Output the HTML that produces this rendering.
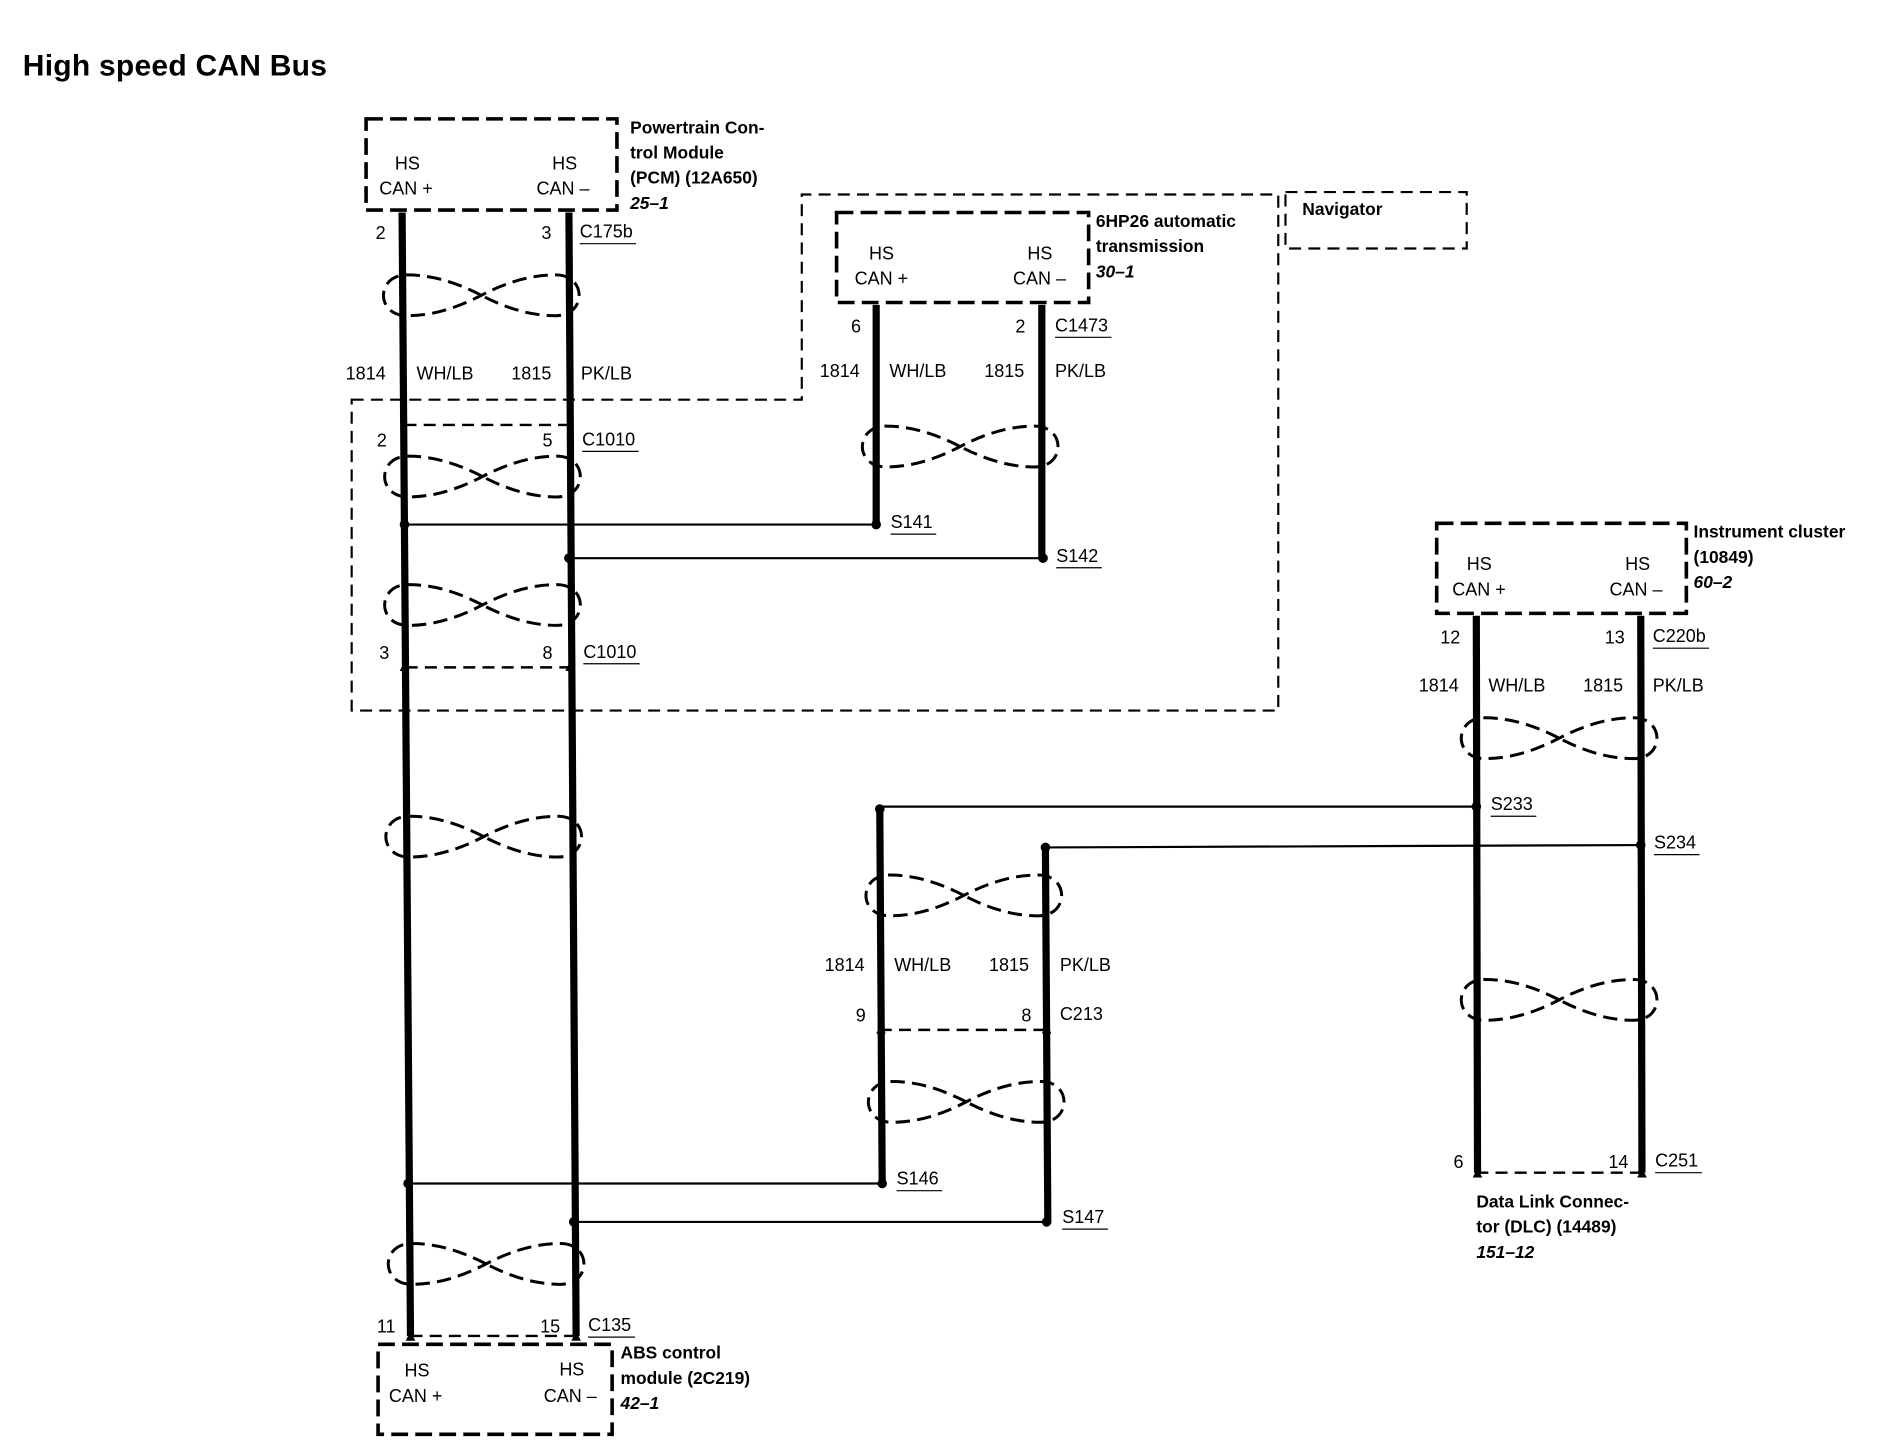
<!DOCTYPE html>
<html><head><meta charset="utf-8"><style>
html,body{margin:0;padding:0;background:#fff;}
svg{display:block;}
text{font-family:"Liberation Sans",Arial,sans-serif;font-size:15px;fill:#000;}
.b{font-weight:bold;font-size:14.5px;}
.i{font-weight:bold;font-style:italic;font-size:14.5px;}
</style></head><body>
<svg width="1882" height="1456" viewBox="0 0 1568 1213" xmlns="http://www.w3.org/2000/svg">
<defs>
<path id="tw" d="M0,0 C-25,-13 -45,-17 -62,-17 C-88,-17 -88,17 -62,17 C-45,17 -25,13 0,0 C25,-13 45,-17 62,-17 C88,-17 88,17 62,17 C45,17 25,13 0,0 Z" fill="none" stroke="#000" stroke-width="2.5" stroke-dasharray="12 6"/>
<path id="ar" d="M-4,5 L0,-3 L4,5 Z" fill="#000"/>
</defs>
<text x="19" y="63" style="font-weight:bold;font-size:25px;letter-spacing:0.2px">High speed CAN Bus</text>

<path d="M293,333 L668,333 L668,162 L1065,162 L1065,592 L293,592 Z" fill="none" stroke="#000" stroke-width="1.8" stroke-dasharray="10 6"/>
<rect x="1071" y="160" width="151" height="47" fill="none" stroke="#000" stroke-width="1.8" stroke-dasharray="10 6"/>
<text x="1085" y="179" class="b">Navigator</text>

<g fill="none" stroke="#000" stroke-width="3" stroke-dasharray="14 6">
<rect x="305" y="99" width="209" height="76"/>
<rect x="697" y="177" width="210" height="75"/>
<rect x="1197" y="436" width="208" height="75"/>
<rect x="315" y="1120" width="195" height="75"/>
</g>
<g stroke="#000" stroke-width="2" stroke-dasharray="10 6">
<line x1="337" y1="354" x2="474" y2="354"/>
<line x1="338" y1="556" x2="475" y2="556"/>
<line x1="342" y1="1113" x2="480" y2="1113"/>
<line x1="733" y1="858" x2="871" y2="858"/>
<line x1="1230" y1="977" x2="1367" y2="977"/>
</g>

<g stroke="#000" stroke-width="6">
<line x1="335" y1="177" x2="342" y2="1113"/>
<line x1="474" y1="177" x2="480" y2="1113"/>
<line x1="730" y1="254" x2="730" y2="437"/>
<line x1="868" y1="254" x2="868" y2="465"/>
<line x1="1230" y1="513" x2="1231" y2="977"/>
<line x1="1367" y1="513" x2="1368" y2="977"/>
<line x1="733" y1="675" x2="735" y2="986"/>
<line x1="871" y1="707" x2="873" y2="1018"/>
</g>
<use href="#ar" transform="translate(337,554)"/><use href="#ar" transform="translate(475,554)"/>
<use href="#ar" transform="translate(734,856)"/><use href="#ar" transform="translate(872,856)"/>
<use href="#ar" transform="translate(342,1112)"/><use href="#ar" transform="translate(480,1112)"/>
<use href="#ar" transform="translate(1231,976)"/><use href="#ar" transform="translate(1368,976)"/>
<g stroke="#000" stroke-width="1.8">
<line x1="337" y1="437" x2="730" y2="437"/>
<line x1="474" y1="465" x2="869" y2="465"/>
<line x1="340" y1="986" x2="735" y2="986"/>
<line x1="478" y1="1018" x2="872" y2="1018"/>
<line x1="733" y1="672" x2="1230" y2="672"/>
<line x1="871" y1="706" x2="1367" y2="704"/>
</g>
<g fill="#000">
<circle cx="337" cy="437" r="4"/><circle cx="730" cy="437" r="4"/>
<circle cx="474" cy="465" r="4"/><circle cx="869" cy="465" r="4"/>
<circle cx="340" cy="986" r="4"/><circle cx="735" cy="986" r="4"/>
<circle cx="478" cy="1018" r="4"/><circle cx="872" cy="1018" r="4"/>
<circle cx="733" cy="674" r="4"/><circle cx="1230" cy="672" r="4"/>
<circle cx="871" cy="706" r="4"/><circle cx="1367" cy="704" r="4"/>
</g>

<use href="#tw" transform="translate(401,246)"/>
<use href="#tw" transform="translate(402,397)"/>
<use href="#tw" transform="translate(402,504)"/>
<use href="#tw" transform="translate(403,697)"/>
<use href="#tw" transform="translate(405,1053)"/>
<use href="#tw" transform="translate(800,372)"/>
<use href="#tw" transform="translate(803,746)"/>
<use href="#tw" transform="translate(805,918)"/>
<use href="#tw" transform="translate(1299,615)"/>
<use href="#tw" transform="translate(1299,833)"/>

<text x="329" y="141">HS</text><text x="316" y="162">CAN +</text>
<text x="460" y="141">HS</text><text x="447" y="162">CAN –</text>
<text x="525" y="111" class="b">Powertrain Con-</text>
<text x="525" y="132" class="b">trol Module</text>
<text x="525" y="153" class="b">(PCM) (12A650)</text>
<text x="525" y="174" class="i">25–1</text>
<text x="313" y="199">2</text><text x="451" y="199">3</text>
<text x="483" y="198">C175b</text><line x1="483" y1="203" x2="530" y2="203" stroke="#000"/>
<text x="288" y="316">1814</text><text x="347" y="316">WH/LB</text>
<text x="426" y="316">1815</text><text x="484" y="316">PK/LB</text>
<text x="314" y="372">2</text><text x="452" y="372">5</text>
<text x="485" y="371">C1010</text><line x1="485" y1="376" x2="532" y2="376" stroke="#000"/>
<text x="316" y="549">3</text><text x="452" y="549">8</text>
<text x="486" y="548">C1010</text><line x1="486" y1="553" x2="533" y2="553" stroke="#000"/>

<text x="724" y="216">HS</text><text x="712" y="237">CAN +</text>
<text x="856" y="216">HS</text><text x="844" y="237">CAN –</text>
<text x="913" y="189" class="b">6HP26 automatic</text>
<text x="913" y="210" class="b">transmission</text>
<text x="913" y="231" class="i">30–1</text>
<text x="709" y="277">6</text><text x="846" y="277">2</text>
<text x="879" y="276">C1473</text><line x1="879" y1="281" x2="926" y2="281" stroke="#000"/>
<text x="683" y="314">1814</text><text x="741" y="314">WH/LB</text>
<text x="820" y="314">1815</text><text x="879" y="314">PK/LB</text>
<text x="742" y="440">S141</text><line x1="742" y1="445" x2="780" y2="445" stroke="#000"/>
<text x="880" y="468">S142</text><line x1="880" y1="473" x2="918" y2="473" stroke="#000"/>

<text x="1222" y="475">HS</text><text x="1210" y="496">CAN +</text>
<text x="1354" y="475">HS</text><text x="1341" y="496">CAN –</text>
<text x="1411" y="448" class="b">Instrument cluster</text>
<text x="1411" y="469" class="b">(10849)</text>
<text x="1411" y="490" class="i">60–2</text>
<text x="1200" y="536">12</text><text x="1337" y="536">13</text>
<text x="1377" y="535">C220b</text><line x1="1377" y1="540" x2="1424" y2="540" stroke="#000"/>
<text x="1182" y="576">1814</text><text x="1240" y="576">WH/LB</text>
<text x="1319" y="576">1815</text><text x="1377" y="576">PK/LB</text>
<text x="1242" y="675">S233</text><line x1="1242" y1="680" x2="1280" y2="680" stroke="#000"/>
<text x="1378" y="707">S234</text><line x1="1378" y1="712" x2="1416" y2="712" stroke="#000"/>
<text x="1211" y="973">6</text><text x="1340" y="973">14</text>
<text x="1379" y="972">C251</text><line x1="1379" y1="977" x2="1418" y2="977" stroke="#000"/>
<text x="1230" y="1006" class="b">Data Link Connec-</text>
<text x="1230" y="1027" class="b">tor (DLC) (14489)</text>
<text x="1230" y="1048" class="i">151–12</text>

<text x="687" y="809">1814</text><text x="745" y="809">WH/LB</text>
<text x="824" y="809">1815</text><text x="883" y="809">PK/LB</text>
<text x="713" y="851">9</text><text x="851" y="851">8</text>
<text x="883" y="850">C213</text>
<text x="747" y="987">S146</text><line x1="747" y1="992" x2="785" y2="992" stroke="#000"/>
<text x="885" y="1019">S147</text><line x1="885" y1="1024" x2="923" y2="1024" stroke="#000"/>

<text x="314" y="1110">11</text><text x="450" y="1110">15</text>
<text x="490" y="1109">C135</text><line x1="490" y1="1114" x2="529" y2="1114" stroke="#000"/>
<text x="337" y="1147">HS</text><text x="324" y="1168">CAN +</text>
<text x="466" y="1146">HS</text><text x="453" y="1168">CAN –</text>
<text x="517" y="1132" class="b">ABS control</text>
<text x="517" y="1153" class="b">module (2C219)</text>
<text x="517" y="1174" class="i">42–1</text>
</svg>
</body></html>
